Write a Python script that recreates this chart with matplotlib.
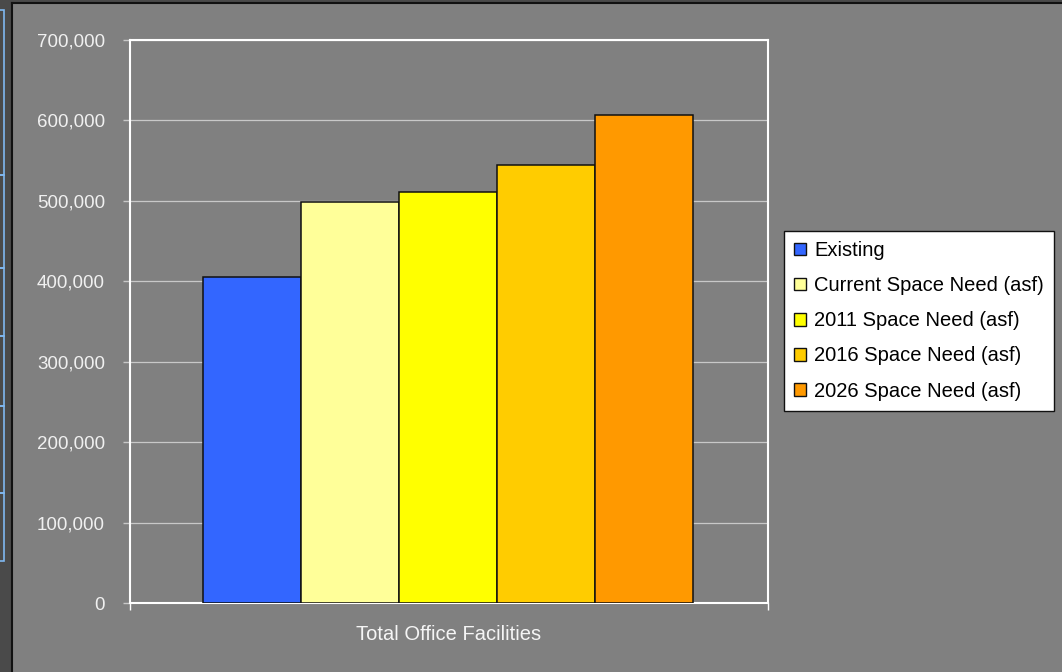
import matplotlib
matplotlib.use("Agg")
import matplotlib.pyplot as plt
from matplotlib.patches import Rectangle
from matplotlib.lines import Line2D

series_names = ["Existing", "Current Space Need (asf)", "2011 Space Need (asf)",
                "2016 Space Need (asf)", "2026 Space Need (asf)"]
values = [405000, 498000, 511000, 545000, 607000]
colors = ["#3366ff", "#ffff99", "#ffff00", "#ffcc00", "#ff9900"]
category = "Total Office Facilities"
y_ticks = [0, 100000, 200000, 300000, 400000, 500000, 600000, 700000]

W, H = 1062, 672
fig = plt.figure(figsize=(W / 100, H / 100), dpi=100)
fig.patch.set_facecolor("#808080")

# dark left strip and top strip (window frame)
fig.add_artist(Rectangle((0, 0), 11 / W, 1, transform=fig.transFigure,
                         facecolor="#4a4a4a", edgecolor="none"))
fig.add_artist(Rectangle((0, 1 - 2 / H), 1, 2 / H, transform=fig.transFigure,
                         facecolor="#4a4a4a", edgecolor="none"))
fig.add_artist(Line2D([11.5 / W, 11.5 / W], [0, 1 - 2.5 / H], transform=fig.transFigure,
                      color="#111111", lw=1.5))
fig.add_artist(Line2D([11.5 / W, 1], [1 - 2.5 / H, 1 - 2.5 / H], transform=fig.transFigure,
                      color="#111111", lw=1.5))
# blue outline boxes at far left
seg_y = [10, 175, 268, 336, 406, 493, 561]
for y0, y1 in zip(seg_y[:-1], seg_y[1:]):
    fig.add_artist(Rectangle((-5 / W, 1 - y1 / H), 9 / W, (y1 - y0) / H,
                             transform=fig.transFigure, facecolor="none",
                             edgecolor="#80b8f0", lw=1.2))

ax = fig.add_axes([130 / W, (H - 603) / H, 638 / W, 563 / H])
ax.set_facecolor("#808080")

for i, (v, c, n) in enumerate(zip(values, colors, series_names)):
    ax.bar(i, v, width=1.0, color=c, edgecolor="#111111", linewidth=1.1, label=n, zorder=3)

ax.set_xlim(-1.245, 5.265)
ax.set_ylim(0, 700000)

ax.set_yticks(y_ticks)
ax.set_yticklabels([f"{t:,}" for t in y_ticks],
                   fontfamily="Liberation Sans", fontsize=13.5, color="#f0f0f0")
ax.yaxis.grid(True, color="#c8c8c8", lw=0.9, zorder=0)
ax.set_axisbelow(True)
ax.tick_params(axis="y", direction="out", length=5, width=1, color="#c8c8c8", pad=13)

ax.set_xticks([-1.245, 5.265])
ax.set_xticklabels(["", ""])
ax.tick_params(axis="x", direction="out", length=5, width=1, color="white")
ax.set_xlabel(category, fontfamily="Liberation Sans", fontsize=14.5, color="#f5f5f5",
              labelpad=7)

for s in ax.spines.values():
    s.set_color("white")
    s.set_linewidth(1.5)

leg = fig.legend(loc="upper left", bbox_to_anchor=(784 / W, 1 - 231 / H),
                 prop={"family": "Liberation Sans", "size": 14.5},
                 frameon=True, fancybox=False, framealpha=1, facecolor="white",
                 edgecolor="#111111", handlelength=0.6, handleheight=0.6,
                 handletextpad=0.4, labelspacing=0.8, borderpad=0.5,
                 borderaxespad=0)
leg.get_frame().set_linewidth(1.0)
for h in leg.legend_handles:
    h.set_linewidth(1.0)

fig.savefig("out.png", dpi=100, facecolor=fig.get_facecolor())
